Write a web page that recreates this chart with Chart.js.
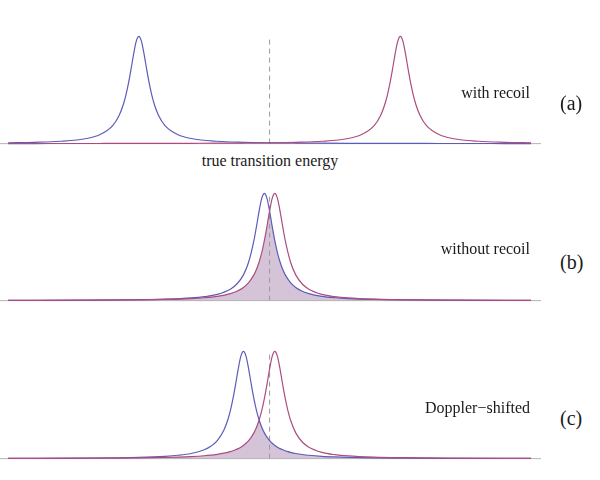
<!DOCTYPE html>
<html>
<head>
<meta charset="utf-8">
<script src="https://cdn.jsdelivr.net/npm/chart.js@4.4.1/dist/chart.umd.min.js"></script>
<style>
  html, body { margin: 0; padding: 0; background: #ffffff; }
  #wrap { position: relative; width: 600px; height: 480px; overflow: hidden; }
  canvas { position: absolute; left: 0; }
  .lbl { position: absolute; font-family: "Liberation Serif", "DejaVu Serif", serif; color: #1a1a1a; white-space: nowrap; }
  .cap { font-size: 16px; line-height: 16px; }
  .tag { font-size: 20px; line-height: 20px; }
</style>
</head>
<body>
<div id="wrap">
  <canvas id="cA" width="541" height="118" style="top:31px"></canvas>
  <canvas id="cB" width="541" height="118" style="top:188px"></canvas>
  <canvas id="cC" width="541" height="118" style="top:346px"></canvas>
  <div class="lbl cap" id="tA" style="top:84.5px; right:70px"></div>
  <div class="lbl cap" id="tB" style="top:241px; right:70px"></div>
  <div class="lbl cap" id="tC" style="top:400.3px; right:70px"></div>
  <div class="lbl cap" id="tAxis" style="top:152.6px; left:270px; transform:translateX(-50%)"></div>
  <div class="lbl tag" id="gA" style="top:93.3px; left:560px"></div>
  <div class="lbl tag" id="gB" style="top:251.8px; left:560px"></div>
  <div class="lbl tag" id="gC" style="top:408px; left:560px"></div>
</div>
<script>
// ---------- data ----------
const panelLabels = ['with recoil', 'without recoil', 'Doppler\u2212shifted'];
const panelTags = ['(a)', '(b)', '(c)'];
const axisTitle = 'true transition energy';
const trueEnergy = 0;

// (a) with recoil
const xA = [-10, -9, -8, -7, -6.5, -6, -5.75, -5.6, -5.5, -5.4, -5.3, -5.2, -5.1, -5, -4.9, -4.8, -4.7, -4.6, -4.5, -4.4, -4.25, -4, -3.5, -3, -2, -1, 0, 1, 2, 3, 3.5, 4, 4.25, 4.4, 4.5, 4.6, 4.7, 4.8, 4.9, 5, 5.1, 5.2, 5.3, 5.4, 5.5, 5.6, 5.75, 6, 6.5, 7, 8, 9, 10];
const blueA = [0.0080, 0.0125, 0.0220, 0.0482, 0.0826, 0.168, 0.265, 0.360, 0.447, 0.559, 0.692, 0.835, 0.953, 1, 0.953, 0.835, 0.692, 0.559, 0.447, 0.360, 0.265, 0.168, 0.0826, 0.0482, 0.0220, 0.0125, 0.0080, 0.0056, 0.0041, 0.0032, 0.0028, 0.0025, 0.0024, 0.0023, 0.0022, 0.0022, 0.0022, 0.0021, 0.0021, 0.0020, 0.0020, 0.0019, 0.0019, 0.0019, 0.0018, 0.0018, 0.0018, 0.0017, 0.0015, 0.0014, 0.0012, 0.0010, 0.0009];
const purpleA = [0.0009, 0.0010, 0.0012, 0.0014, 0.0015, 0.0017, 0.0018, 0.0018, 0.0018, 0.0019, 0.0019, 0.0019, 0.0020, 0.0020, 0.0021, 0.0021, 0.0022, 0.0022, 0.0022, 0.0023, 0.0024, 0.0025, 0.0028, 0.0032, 0.0041, 0.0056, 0.0080, 0.0125, 0.0220, 0.0482, 0.0826, 0.168, 0.265, 0.360, 0.447, 0.559, 0.692, 0.835, 0.953, 1, 0.953, 0.835, 0.692, 0.559, 0.447, 0.360, 0.265, 0.168, 0.0826, 0.0482, 0.0220, 0.0125, 0.0080];

// (b) without recoil
const xB = [-10, -7, -5, -4, -3, -2.5, -2, -1.5, -1.25, -1, -0.8, -0.6, -0.5, -0.4, -0.3, -0.2, -0.1, 0, 0.1, 0.2, 0.3, 0.4, 0.5, 0.6, 0.8, 1, 1.25, 1.5, 2, 2.5, 3, 4, 5, 7, 10];
const blueB = [0.0021, 0.0044, 0.0087, 0.0138, 0.0252, 0.0369, 0.0589, 0.107, 0.155, 0.240, 0.360, 0.559, 0.692, 0.835, 0.953, 1, 0.953, 0.835, 0.692, 0.559, 0.447, 0.360, 0.292, 0.240, 0.168, 0.123, 0.0879, 0.0655, 0.0402, 0.0270, 0.0194, 0.0114, 0.0074, 0.0039, 0.0019];
const purpleB = [0.0019, 0.0039, 0.0074, 0.0114, 0.0194, 0.0270, 0.0402, 0.0655, 0.0879, 0.123, 0.168, 0.240, 0.292, 0.360, 0.447, 0.559, 0.692, 0.835, 0.953, 1, 0.953, 0.835, 0.692, 0.559, 0.360, 0.240, 0.155, 0.107, 0.0589, 0.0369, 0.0252, 0.0138, 0.0087, 0.0044, 0.0021];

// (c) Doppler-shifted
const xC = [-10, -7, -5, -4, -3.5, -3, -2.5, -2.25, -2, -1.75, -1.6, -1.5, -1.4, -1.3, -1.2, -1.1, -1, -0.9, -0.8, -0.7, -0.6, -0.5, -0.4, -0.3, -0.2, -0.1, 0, 0.1, 0.2, 0.3, 0.4, 0.5, 0.6, 0.7, 0.8, 1, 1.25, 1.5, 2, 2.5, 3, 4, 5, 7, 10];
const blueC = [0.0025, 0.0056, 0.0125, 0.0220, 0.0314, 0.0482, 0.0826, 0.115, 0.168, 0.265, 0.360, 0.447, 0.559, 0.692, 0.835, 0.953, 1, 0.953, 0.835, 0.692, 0.559, 0.447, 0.360, 0.292, 0.240, 0.200, 0.168, 0.143, 0.123, 0.107, 0.0936, 0.0826, 0.0733, 0.0655, 0.0589, 0.0482, 0.0385, 0.0314, 0.0220, 0.0163, 0.0125, 0.0080, 0.0056, 0.0032, 0.0017];
const purpleC = [0.0019, 0.0039, 0.0074, 0.0114, 0.0146, 0.0194, 0.0270, 0.0326, 0.0402, 0.0506, 0.0589, 0.0655, 0.0733, 0.0826, 0.0936, 0.107, 0.123, 0.143, 0.168, 0.200, 0.240, 0.292, 0.360, 0.447, 0.559, 0.692, 0.835, 0.953, 1, 0.953, 0.835, 0.692, 0.559, 0.447, 0.360, 0.240, 0.155, 0.107, 0.0589, 0.0369, 0.0252, 0.0138, 0.0087, 0.0044, 0.0021];

// ---------- drawing ----------
const X_MIN = -10.31, X_MAX = 10.38;
const BLUE = '#5c5cb8';
const PURPLE = '#ac4c80';
const FILL = '#d5c4d8';

function makePanel(id, xs, blue, purple) {
  const pts = arr => xs.map((x, i) => ({ x: x, y: arr[i] }));
  const overlap = xs.map((x, i) => ({ x: x, y: Math.min(blue[i], purple[i]) }));
  new Chart(document.getElementById(id), {
    type: 'line',
    data: {
      datasets: [
        { data: overlap, fill: 'origin', backgroundColor: FILL, borderWidth: 0, borderColor: 'rgba(0,0,0,0)',
          pointRadius: 0, cubicInterpolationMode: 'monotone', order: 5 },
        { data: [{ x: X_MIN, y: 0 }, { x: X_MAX, y: 0 }], borderColor: '#b4b4b4', borderWidth: 1,
          pointRadius: 0, fill: false, order: 4 },
        { data: [{ x: trueEnergy, y: 0 }, { x: trueEnergy, y: 1 }], borderColor: '#9a9a9a', borderWidth: 1,
          borderDash: [5, 4], pointRadius: 0, fill: false, order: 3 },
        { data: pts(blue), borderColor: BLUE, borderWidth: 1.2, pointRadius: 0, fill: false,
          cubicInterpolationMode: 'monotone', order: 2 },
        { data: pts(purple), borderColor: PURPLE, borderWidth: 1.2, pointRadius: 0, fill: false,
          cubicInterpolationMode: 'monotone', order: 1 }
      ]
    },
    options: {
      responsive: false,
      animation: false,
      layout: { padding: 0 },
      plugins: { legend: { display: false }, tooltip: { enabled: false } },
      events: [],
      scales: {
        x: { type: 'linear', min: X_MIN, max: X_MAX, display: false },
        y: { type: 'linear', min: -0.05, max: 1.05, display: false }
      }
    }
  });
}

makePanel('cA', xA, blueA, purpleA);
makePanel('cB', xB, blueB, purpleB);
makePanel('cC', xC, blueC, purpleC);

document.getElementById('tA').textContent = panelLabels[0];
document.getElementById('tB').textContent = panelLabels[1];
document.getElementById('tC').textContent = panelLabels[2];
document.getElementById('gA').textContent = panelTags[0];
document.getElementById('gB').textContent = panelTags[1];
document.getElementById('gC').textContent = panelTags[2];
document.getElementById('tAxis').textContent = axisTitle;
</script>
</body>
</html>
